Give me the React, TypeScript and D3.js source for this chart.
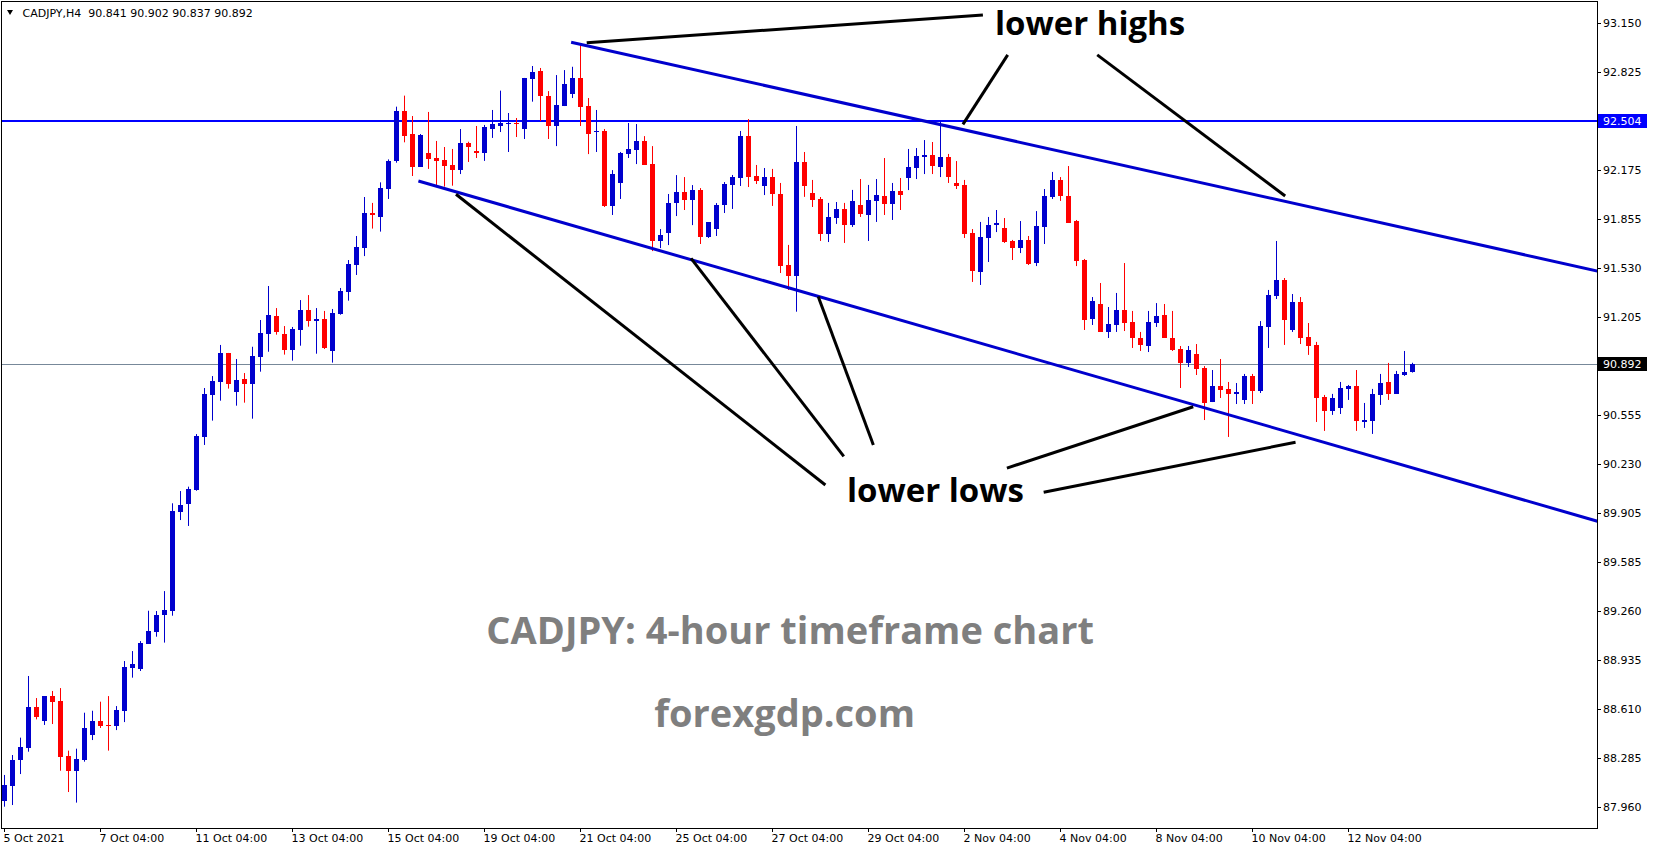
import React from 'react'
import * as d3 from 'd3'

// CADJPY H4 candles (index 0 = 5 Oct 04:00)
const OPEN = [
  88.004, 88.103, 88.273, 88.355, 88.624, 88.533, 88.696, 88.663, 88.299, 88.202,
  88.273, 88.438, 88.531, 88.505, 88.498, 88.599, 88.884, 88.875, 89.043, 89.122,
  89.233, 89.261, 89.916, 89.967, 90.060, 90.413, 90.689, 90.777, 90.967, 90.711,
  90.794, 90.764, 90.942, 91.094, 91.211, 91.092, 90.989, 91.121, 91.251, 91.181,
  91.192, 90.982, 91.227, 91.372, 91.551, 91.664, 91.891, 91.867, 92.052, 92.238,
  92.568, 92.416, 92.198, 92.290, 92.257, 92.244, 92.211, 92.180, 92.357, 92.304,
  92.290, 92.451, 92.471, 92.487, 92.489, 92.449, 92.780, 92.833, 92.667, 92.469,
  92.601, 92.680, 92.786, 92.601, 92.427, 92.436, 91.939, 92.091, 92.283, 92.310,
  92.369, 92.217, 91.708, 91.761, 91.959, 92.032, 91.979, 92.045, 91.734, 91.787,
  91.946, 92.079, 92.125, 92.403, 92.138, 92.072, 92.132, 92.019, 91.549, 91.476,
  92.231, 92.026, 91.986, 91.754, 91.860, 91.920, 91.814, 91.946, 91.880, 91.973,
  92.006, 91.953, 92.039, 92.125, 92.191, 92.266, 92.277, 92.198, 92.264, 92.092,
  92.078, 91.761, 91.503, 91.728, 91.814, 91.794, 91.708, 91.662, 91.715, 91.562,
  91.801, 91.999, 92.112, 92.006, 91.840, 91.582, 91.192, 91.291, 91.106, 91.152,
  91.251, 91.172, 91.066, 91.013, 91.165, 91.218, 91.066, 90.993, 90.900, 90.960,
  90.867, 90.642, 90.748, 90.728, 90.695, 90.655, 90.814, 90.715, 91.139, 91.344,
  91.450, 91.119, 91.304, 91.073, 91.020, 90.676, 90.583, 90.603, 90.729, 90.749,
  90.512, 90.517, 90.689, 90.775, 90.696, 90.821, 90.841,
]
const HIGH = [
  88.174, 88.306, 88.421, 88.829, 88.683, 88.696, 88.730, 88.749, 88.335, 88.348,
  88.586, 88.599, 88.659, 88.696, 88.630, 88.928, 88.994, 89.060, 89.261, 89.259,
  89.391, 89.972, 90.053, 90.082, 90.430, 90.735, 90.814, 91.020, 90.967, 90.927,
  90.834, 91.008, 91.185, 91.410, 91.264, 91.145, 91.139, 91.317, 91.350, 91.264,
  91.245, 91.258, 91.397, 91.582, 91.741, 91.999, 91.960, 92.096, 92.248, 92.597,
  92.670, 92.535, 92.416, 92.562, 92.370, 92.330, 92.317, 92.449, 92.365, 92.469,
  92.476, 92.575, 92.703, 92.555, 92.522, 92.787, 92.866, 92.853, 92.700, 92.806,
  92.839, 92.861, 93.005, 92.654, 92.575, 92.449, 92.177, 92.297, 92.489, 92.482,
  92.402, 92.336, 91.787, 92.019, 92.144, 92.131, 92.078, 92.058, 91.833, 91.959,
  92.098, 92.145, 92.436, 92.515, 92.211, 92.191, 92.185, 92.092, 91.682, 92.469,
  92.297, 92.112, 91.999, 91.960, 91.966, 91.960, 92.046, 92.118, 92.079, 92.118,
  92.257, 92.092, 92.125, 92.317, 92.323, 92.376, 92.363, 92.500, 92.284, 92.237,
  92.112, 91.787, 91.834, 91.867, 91.913, 91.860, 91.715, 91.840, 91.741, 91.906,
  92.052, 92.165, 92.131, 92.204, 91.847, 91.589, 91.337, 91.430, 91.271, 91.364,
  91.562, 91.245, 91.106, 91.245, 91.297, 91.291, 91.245, 91.013, 91.013, 91.026,
  90.880, 90.854, 90.927, 90.775, 90.768, 90.828, 90.828, 91.178, 91.384, 91.708,
  91.463, 91.357, 91.337, 91.165, 91.040, 90.689, 90.696, 90.775, 90.755, 90.854,
  90.636, 90.729, 90.828, 90.901, 90.848, 90.980, 90.902,
]
const LOW = [
  87.964, 87.975, 88.180, 88.328, 88.542, 88.505, 88.511, 88.202, 88.061, 87.991,
  88.262, 88.405, 88.485, 88.335, 88.471, 88.524, 88.818, 88.862, 89.043, 89.089,
  89.050, 89.228, 89.861, 89.822, 90.055, 90.358, 90.519, 90.651, 90.731, 90.618,
  90.638, 90.532, 90.843, 90.975, 91.088, 90.956, 90.916, 91.015, 91.141, 90.962,
  90.993, 90.903, 91.220, 91.313, 91.483, 91.608, 91.790, 91.770, 91.986, 92.226,
  92.361, 92.138, 92.198, 92.185, 92.074, 92.068, 92.074, 92.151, 92.231, 92.257,
  92.238, 92.390, 92.429, 92.297, 92.396, 92.383, 92.630, 92.502, 92.383, 92.336,
  92.601, 92.654, 92.469, 92.283, 92.297, 91.933, 91.880, 91.986, 92.257, 92.217,
  92.211, 91.641, 91.661, 91.681, 91.873, 91.913, 91.813, 91.688, 91.728, 91.741,
  91.893, 91.920, 92.072, 92.065, 92.085, 92.012, 91.940, 91.496, 91.384, 91.240,
  92.000, 91.933, 91.708, 91.701, 91.821, 91.695, 91.801, 91.867, 91.708, 91.834,
  91.880, 91.847, 91.913, 92.045, 92.118, 92.151, 92.151, 92.131, 92.092, 92.052,
  91.728, 91.437, 91.417, 91.569, 91.767, 91.695, 91.582, 91.628, 91.549, 91.542,
  91.688, 91.986, 91.973, 91.827, 91.542, 91.119, 91.152, 91.106, 91.066, 91.106,
  91.112, 91.000, 90.980, 90.973, 91.139, 91.066, 90.980, 90.735, 90.874, 90.821,
  90.523, 90.642, 90.669, 90.411, 90.629, 90.629, 90.629, 90.702, 91.000, 91.324,
  91.020, 91.106, 91.026, 90.954, 90.510, 90.451, 90.557, 90.563, 90.656, 90.451,
  90.471, 90.431, 90.623, 90.656, 90.696, 90.815, 90.837,
]
const CLOSE = [
  88.108, 88.273, 88.359, 88.624, 88.560, 88.696, 88.659, 88.295, 88.202, 88.280,
  88.485, 88.531, 88.498, 88.500, 88.604, 88.888, 88.908, 89.047, 89.127, 89.233,
  89.266, 89.921, 89.961, 90.064, 90.417, 90.695, 90.781, 90.967, 90.761, 90.788,
  90.764, 90.947, 91.099, 91.218, 91.108, 90.989, 91.125, 91.251, 91.181, 91.192,
  91.000, 91.231, 91.377, 91.556, 91.668, 91.893, 91.882, 92.057, 92.238, 92.568,
  92.405, 92.198, 92.410, 92.253, 92.240, 92.207, 92.180, 92.357, 92.332, 92.293,
  92.463, 92.482, 92.489, 92.489, 92.485, 92.787, 92.826, 92.668, 92.469, 92.608,
  92.747, 92.786, 92.594, 92.416, 92.436, 91.939, 92.151, 92.290, 92.316, 92.369,
  92.211, 91.708, 91.747, 91.959, 92.032, 91.979, 92.045, 91.734, 91.833, 91.946,
  92.085, 92.132, 92.403, 92.132, 92.105, 92.132, 92.021, 91.543, 91.476, 92.231,
  92.072, 91.979, 91.754, 91.867, 91.920, 91.814, 91.973, 91.887, 91.979, 92.012,
  91.953, 92.039, 92.012, 92.198, 92.270, 92.277, 92.204, 92.264, 92.131, 92.072,
  91.754, 91.509, 91.734, 91.814, 91.827, 91.701, 91.662, 91.715, 91.556, 91.807,
  92.006, 92.112, 92.006, 91.827, 91.576, 91.185, 91.311, 91.106, 91.158, 91.251,
  91.165, 91.066, 91.019, 91.172, 91.211, 91.066, 90.986, 90.900, 90.986, 90.861,
  90.636, 90.748, 90.722, 90.695, 90.708, 90.814, 90.715, 91.145, 91.351, 91.450,
  91.185, 91.304, 91.066, 91.013, 90.669, 90.583, 90.669, 90.735, 90.749, 90.517,
  90.526, 90.696, 90.768, 90.696, 90.828, 90.841, 90.892,
]

const X_LABELS = [
  '5 Oct 2021', '7 Oct 04:00', '11 Oct 04:00', '13 Oct 04:00', '15 Oct 04:00',
  '19 Oct 04:00', '21 Oct 04:00', '25 Oct 04:00', '27 Oct 04:00', '29 Oct 04:00',
  '2 Nov 04:00', '4 Nov 04:00', '8 Nov 04:00', '10 Nov 04:00', '12 Nov 04:00',
]
const X_LABEL_BARS = [0, 12, 24, 36, 48, 60, 72, 84, 96, 108, 120, 132, 144, 156, 168]

const Y_TICKS = [
  93.15, 92.825, 92.175, 91.855, 91.53, 91.205, 90.555, 90.23, 89.905,
  89.585, 89.26, 88.935, 88.61, 88.285, 87.96,
]

const RESISTANCE = 92.504
const LAST_PRICE = 90.892

// trend lines anchored in [bar index, price]
const CHANNEL = [
  [[70.9, 93.023], [200, 91.5]],
  [[51.8, 92.105], [200, 89.842]],
]
const POINTERS = [
  [[72.85, 93.02], [122.4, 93.204]],
  [[119.9, 92.48], [125.5, 92.94]],
  [[136.7, 92.94], [160.2, 92.006]],
  [[56.5, 92.017], [102.7, 90.093]],
  [[85.9, 91.593], [105.0, 90.282]],
  [[101.8, 91.34], [108.7, 90.358]],
  [[125.4, 90.205], [148.7, 90.611]],
  [[130.0, 90.045], [161.5, 90.376]],
]
const NOTES = [
  { text: 'lower highs', bar: 123.9, price: 93.071, size: 33, color: '#000' },
  { text: 'lower lows', bar: 105.4, price: 89.982, size: 33, color: '#000' },
  { text: 'CADJPY: 4-hour timeframe chart', bar: 60.3, price: 89.041, size: 38, color: '#7f7f7f' },
  { text: 'forexgdp.com', bar: 81.3, price: 88.489, size: 38, color: '#7f7f7f' },
]

const W = 1653
const H = 850
const left = 2
const top = 2
const right = 1597
const bottom = 828

const BULL = '#0000cd'
const BEAR = '#ff0000'
const AXIS_FONT = '"DejaVu Sans", sans-serif'

export default function App() {
  const x = d3.scaleLinear().domain([0, 176]).range([4.2, 1411.5])
  const y = d3.scaleLinear().domain([87.96, 93.15]).range([807.3, 23.1])
  const line = d3.line<number[]>().x(d => x(d[0])).y(d => y(d[1]))

  const candles = OPEN.map((o, i) => ({ o, h: HIGH[i], l: LOW[i], c: CLOSE[i], i }))

  return (
    <div>
      <style>{'body{margin:0;background:#fff}'}</style>
      <svg width={W} height={H} style={{ display: 'block' }}>
        <defs>
          <clipPath id="plot">
            <rect x={left} y={top} width={right - left} height={bottom - top} />
          </clipPath>
        </defs>
        <rect width={W} height={H} fill="#fff" />

        <g clipPath="url(#plot)">
          {/* horizontal levels */}
          <line x1={left} x2={right} y1={Math.round(y(LAST_PRICE)) + 0.5} y2={Math.round(y(LAST_PRICE)) + 0.5}
            stroke="#778899" strokeWidth={1} />
          <line x1={left} x2={right} y1={Math.round(y(RESISTANCE))} y2={Math.round(y(RESISTANCE))}
            stroke="#0000ff" strokeWidth={2} />

          {/* candles */}
          {candles.map(d => {
            const cx = Math.round(x(d.i))
            const up = d.c >= d.o
            const col = up ? BULL : BEAR
            const y1 = Math.round(y(Math.max(d.o, d.c)))
            const y2 = Math.round(y(Math.min(d.o, d.c)))
            return (
              <g key={d.i}>
                <line x1={cx + 0.5} x2={cx + 0.5} y1={y(d.h)} y2={y(d.l)} stroke={col} strokeWidth={1} />
                <rect x={cx - 2} y={y1} width={5} height={Math.max(1, y2 - y1)} fill={col} />
              </g>
            )
          })}

          {/* channel */}
          {CHANNEL.map((pts, k) => (
            <path key={k} d={line(pts) || ''} stroke="#0000cd" strokeWidth={3} fill="none" />
          ))}

          {/* pointer lines */}
          {POINTERS.map((pts, k) => (
            <path key={k} d={line(pts) || ''} stroke="#000" strokeWidth={3} fill="none" />
          ))}

          {NOTES.map(n => (
            <text key={n.text} x={x(n.bar)} y={y(n.price)} fill={n.color}
              fontFamily='"Open Sans", sans-serif' fontWeight={700} fontSize={n.size}>
              {n.text}
            </text>
          ))}
        </g>

        {/* frame */}
        <rect x={left - 0.5} y={top - 0.5} width={right - left + 1} height={bottom - top + 1}
          fill="none" stroke="#000" strokeWidth={1} />

        {/* header */}
        <path d="M7,10 L13,10 L10,15 Z" fill="#000" />
        <text x={22.5} y={16.5} fontFamily={AXIS_FONT} fontSize={11} fill="#000" style={{ whiteSpace: 'pre' }}>
          {`CADJPY,H4  ${OPEN[176].toFixed(3)} ${HIGH[176].toFixed(3)} ${LOW[176].toFixed(3)} ${CLOSE[176].toFixed(3)}`}
        </text>

        {/* price axis */}
        {Y_TICKS.map(t => {
          const ty = Math.round(y(t)) + 0.5
          return (
            <g key={t}>
              <line x1={right} x2={right + 4} y1={ty} y2={ty} stroke="#000" />
              <text x={1603} y={ty} dy="0.36em" fontFamily={AXIS_FONT} fontSize={11} fill="#000">
                {t.toFixed(3)}
              </text>
            </g>
          )
        })}
        {[{ v: RESISTANCE, bg: '#0000ff' }, { v: LAST_PRICE, bg: '#000' }].map(b => (
          <g key={b.v}>
            <rect x={right + 1} y={Math.round(y(b.v)) - 7} width={49} height={14} fill={b.bg} />
            <text x={1603} y={Math.round(y(b.v))} dy="0.36em" fontFamily={AXIS_FONT} fontSize={11} fill="#fff">
              {b.v.toFixed(3)}
            </text>
          </g>
        ))}

        {/* time axis */}
        {X_LABEL_BARS.map((b, k) => {
          const tx = Math.round(x(b)) + 0.5
          return (
            <g key={b}>
              <line x1={tx} x2={tx} y1={bottom} y2={bottom + 4} stroke="#000" />
              <text x={Math.max(3, tx - 1)} y={842} fontFamily={AXIS_FONT} fontSize={11} fill="#000">
                {X_LABELS[k]}
              </text>
            </g>
          )
        })}
      </svg>
    </div>
  )
}
